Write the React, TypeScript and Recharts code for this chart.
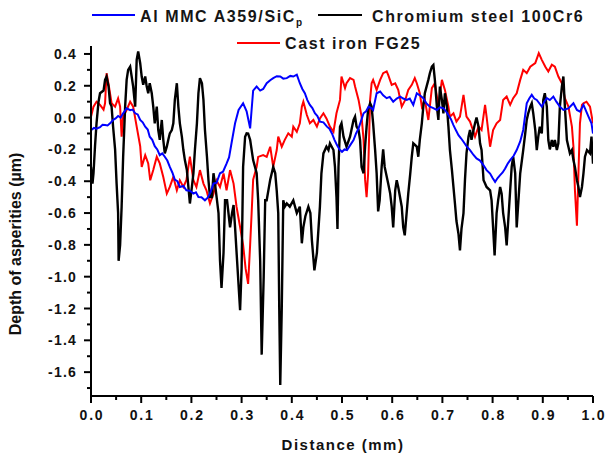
import React from 'react';
import { LineChart, Line, XAxis, YAxis } from 'recharts';

// [distance (mm), depth (µm)] pairs
const alMmc: [number, number][] = [
  [0.0, -0.08], [0.006, -0.065], [0.011, -0.07], [0.018, -0.06], [0.023, -0.045], [0.028, -0.047],
  [0.033, -0.05], [0.038, -0.036], [0.044, -0.015], [0.049, -0.005], [0.054, 0.01], [0.059, 0.0],
  [0.064, 0.027], [0.071, 0.058], [0.078, 0.047], [0.083, 0.05], [0.088, 0.027], [0.093, 0.02],
  [0.098, -0.015], [0.103, -0.03], [0.108, -0.057], [0.113, -0.075], [0.117, -0.12], [0.122, -0.14],
  [0.127, -0.18], [0.132, -0.2], [0.137, -0.236], [0.142, -0.225], [0.147, -0.246], [0.152, -0.27],
  [0.157, -0.31], [0.162, -0.345], [0.167, -0.39], [0.172, -0.4], [0.177, -0.436], [0.184, -0.43],
  [0.19, -0.457], [0.197, -0.46], [0.204, -0.478], [0.209, -0.47], [0.214, -0.499], [0.22, -0.5],
  [0.227, -0.52], [0.232, -0.505], [0.237, -0.478], [0.244, -0.415], [0.25, -0.41], [0.257, -0.35],
  [0.263, -0.34], [0.27, -0.29], [0.275, -0.25], [0.28, -0.16], [0.287, -0.036], [0.294, 0.048],
  [0.303, 0.09], [0.31, 0.04], [0.317, -0.068], [0.323, 0.17], [0.33, 0.195], [0.337, 0.17],
  [0.343, 0.18], [0.35, 0.216], [0.357, 0.235], [0.363, 0.248], [0.37, 0.26], [0.377, 0.258],
  [0.383, 0.245], [0.39, 0.248], [0.397, 0.262], [0.403, 0.258], [0.41, 0.27], [0.416, 0.216],
  [0.421, 0.18], [0.426, 0.153], [0.431, 0.11], [0.436, 0.08], [0.441, 0.06], [0.446, 0.027],
  [0.451, 0.01], [0.456, -0.026], [0.463, -0.03], [0.47, -0.057], [0.475, -0.07], [0.48, -0.1],
  [0.485, -0.14], [0.49, -0.173], [0.495, -0.2], [0.5, -0.215], [0.505, -0.2], [0.51, -0.204],
  [0.517, -0.17], [0.523, -0.141], [0.528, -0.1], [0.533, -0.068], [0.538, -0.02], [0.543, 0.027],
  [0.548, 0.04], [0.553, 0.069], [0.558, 0.06], [0.562, 0.048], [0.569, 0.153], [0.576, 0.164],
  [0.582, 0.14], [0.589, 0.122], [0.595, 0.13], [0.602, 0.1], [0.609, 0.12], [0.616, 0.132],
  [0.622, 0.12], [0.629, 0.111], [0.635, 0.12], [0.642, 0.08], [0.649, 0.153], [0.655, 0.14],
  [0.662, 0.122], [0.668, 0.09], [0.675, 0.069], [0.682, 0.06], [0.689, 0.048], [0.695, 0.065],
  [0.702, 0.059], [0.707, 0.04], [0.712, 0.016], [0.717, -0.01], [0.722, -0.047], [0.727, -0.08],
  [0.732, -0.11], [0.737, -0.13], [0.742, -0.152], [0.748, -0.18], [0.755, -0.204], [0.762, -0.235],
  [0.768, -0.257], [0.775, -0.27], [0.782, -0.3], [0.788, -0.33], [0.795, -0.352], [0.8, -0.38],
  [0.805, -0.404], [0.81, -0.38], [0.815, -0.362], [0.82, -0.345], [0.825, -0.32], [0.83, -0.29],
  [0.835, -0.267], [0.842, -0.24], [0.848, -0.204], [0.855, -0.15], [0.861, -0.078], [0.868, 0.09],
  [0.873, 0.12], [0.878, 0.143], [0.883, 0.12], [0.888, 0.111], [0.893, 0.09], [0.898, 0.069],
  [0.903, 0.1], [0.908, 0.122], [0.914, 0.11], [0.921, 0.132], [0.927, 0.1], [0.934, 0.069],
  [0.941, 0.048], [0.951, 0.058], [0.961, 0.09], [0.968, 0.048], [0.974, 0.037], [0.981, 0.08],
  [0.991, 0.006], [0.997, -0.036], [1.0, -0.1],
];

const chromiumSteel: [number, number][] = [
  [0.0, -0.31], [0.003, -0.415], [0.005, -0.35], [0.008, -0.18], [0.011, -0.036], [0.015, 0.1],
  [0.018, 0.153], [0.025, 0.17], [0.028, 0.237], [0.031, 0.258], [0.035, 0.195], [0.038, 0.09],
  [0.041, 0.069], [0.044, -0.057], [0.048, -0.2], [0.051, -0.415], [0.054, -0.6], [0.055, -0.9],
  [0.058, -0.8], [0.061, -0.56], [0.064, -0.25], [0.068, 0.069], [0.071, 0.237], [0.074, 0.3],
  [0.078, 0.32], [0.081, 0.258], [0.084, 0.195], [0.088, 0.069], [0.091, 0.363], [0.094, 0.416],
  [0.098, 0.342], [0.101, 0.258], [0.104, 0.206], [0.108, 0.258], [0.111, 0.195], [0.114, 0.153],
  [0.117, 0.216], [0.121, 0.153], [0.124, 0.069], [0.127, -0.036], [0.131, 0.069], [0.134, -0.078],
  [0.137, -0.14], [0.141, -0.015], [0.144, -0.14], [0.147, -0.225], [0.151, -0.183], [0.154, -0.14],
  [0.157, -0.099], [0.161, -0.078], [0.164, -0.036], [0.167, 0.111], [0.171, 0.216], [0.174, 0.069],
  [0.177, -0.036], [0.181, -0.12], [0.184, -0.204], [0.187, -0.267], [0.191, -0.33], [0.194, -0.436],
  [0.197, -0.54], [0.201, -0.436], [0.204, -0.35], [0.207, -0.204], [0.211, -0.036], [0.214, 0.153],
  [0.217, 0.248], [0.221, 0.216], [0.224, 0.111], [0.227, -0.078], [0.231, -0.246], [0.234, -0.394],
  [0.237, -0.5], [0.241, -0.5], [0.244, -0.35], [0.247, -0.415], [0.251, -0.52], [0.254, -0.6],
  [0.257, -0.9], [0.26, -1.07], [0.264, -0.85], [0.267, -0.52], [0.271, -0.52], [0.277, -0.69],
  [0.281, -0.6], [0.284, -0.55], [0.287, -0.69], [0.291, -0.9], [0.297, -1.21], [0.3, -0.95],
  [0.303, -0.31], [0.307, -0.12], [0.31, -0.099], [0.313, -0.1], [0.317, -0.14], [0.323, -0.267],
  [0.33, -0.35], [0.333, -0.52], [0.337, -0.9], [0.34, -1.49], [0.344, -1.0], [0.347, -0.52],
  [0.35, -0.52], [0.357, -0.39], [0.363, -0.31], [0.367, -0.35], [0.37, -0.46], [0.373, -0.6],
  [0.375, -1.2], [0.377, -1.68], [0.38, -1.2], [0.383, -0.52], [0.386, -0.56], [0.39, -0.54],
  [0.396, -0.56], [0.403, -0.52], [0.41, -0.6], [0.416, -0.56], [0.42, -0.79], [0.423, -0.69],
  [0.427, -0.62], [0.433, -0.56], [0.437, -0.6], [0.44, -0.77], [0.445, -0.96], [0.45, -0.85],
  [0.456, -0.56], [0.459, -0.35], [0.463, -0.225], [0.469, -0.183], [0.473, -0.204], [0.476, -0.162],
  [0.483, -0.204], [0.486, -0.31], [0.489, -0.5], [0.491, -0.7], [0.493, -0.31], [0.496, -0.057],
  [0.499, -0.036], [0.503, -0.12], [0.509, -0.183], [0.516, -0.12], [0.523, -0.015], [0.526, 0.006],
  [0.529, -0.057], [0.533, -0.078], [0.536, -0.14], [0.539, -0.31], [0.543, -0.35], [0.546, -0.183],
  [0.549, -0.057], [0.552, 0.048], [0.556, 0.09], [0.559, 0.069], [0.562, -0.036], [0.566, -0.204],
  [0.569, -0.35], [0.572, -0.59], [0.575, -0.52], [0.579, -0.31], [0.582, -0.2], [0.585, -0.31],
  [0.592, -0.415], [0.596, -0.478], [0.599, -0.56], [0.602, -0.69], [0.606, -0.457], [0.609, -0.394],
  [0.612, -0.436], [0.619, -0.56], [0.622, -0.69], [0.625, -0.74], [0.632, -0.478], [0.636, -0.35],
  [0.639, -0.246], [0.642, -0.162], [0.649, -0.183], [0.652, -0.246], [0.655, -0.14], [0.659, -0.036],
  [0.662, 0.069], [0.665, 0.153], [0.672, 0.237], [0.675, 0.279], [0.679, 0.32], [0.682, 0.33],
  [0.685, 0.237], [0.689, 0.069], [0.692, -0.015], [0.695, 0.195], [0.699, 0.111], [0.702, 0.027],
  [0.705, 0.153], [0.709, 0.069], [0.712, -0.057], [0.715, -0.204], [0.719, -0.33], [0.722, -0.436],
  [0.725, -0.54], [0.728, -0.65], [0.732, -0.73], [0.735, -0.835], [0.738, -0.7], [0.742, -0.6],
  [0.745, -0.39], [0.748, -0.225], [0.752, -0.12], [0.755, -0.078], [0.758, -0.14], [0.762, -0.078],
  [0.765, -0.036], [0.768, 0.0], [0.772, -0.057], [0.775, -0.162], [0.778, -0.204], [0.782, -0.394],
  [0.785, -0.415], [0.788, -0.436], [0.795, -0.457], [0.798, -0.52], [0.801, -0.69], [0.804, -0.867],
  [0.808, -0.6], [0.811, -0.52], [0.815, -0.436], [0.818, -0.478], [0.821, -0.6], [0.825, -0.69],
  [0.828, -0.804], [0.835, -0.457], [0.838, -0.31], [0.841, -0.246], [0.845, -0.35], [0.848, -0.69],
  [0.855, -0.35], [0.861, -0.204], [0.865, -0.099], [0.868, -0.015], [0.871, 0.027], [0.875, 0.069],
  [0.878, 0.09], [0.881, 0.027], [0.885, -0.078], [0.888, -0.204], [0.891, -0.12], [0.894, -0.057],
  [0.898, -0.099], [0.901, 0.111], [0.904, 0.153], [0.908, 0.069], [0.911, -0.141], [0.914, -0.2],
  [0.918, -0.141], [0.921, -0.183], [0.924, -0.141], [0.928, -0.204], [0.931, -0.162], [0.934, 0.069],
  [0.938, 0.195], [0.941, 0.258], [0.944, 0.069], [0.948, -0.141], [0.951, -0.183], [0.954, -0.225],
  [0.958, -0.204], [0.961, -0.267], [0.964, -0.31], [0.968, -0.394], [0.971, -0.436], [0.974, -0.5],
  [0.978, -0.436], [0.981, -0.35], [0.984, -0.246], [0.988, -0.204], [0.994, -0.225], [0.997, -0.12],
  [1.0, -0.29],
];

const castIron: [number, number][] = [
  [0.0, 0.006], [0.005, 0.069], [0.011, 0.1], [0.018, 0.08], [0.025, 0.05], [0.028, 0.09],
  [0.031, 0.279], [0.035, 0.21], [0.041, 0.09], [0.048, 0.069], [0.054, 0.12], [0.058, 0.069],
  [0.061, -0.12], [0.064, 0.006], [0.071, 0.048], [0.078, 0.1], [0.084, 0.069], [0.091, -0.057],
  [0.098, -0.18], [0.101, -0.31], [0.108, -0.236], [0.114, -0.288], [0.118, -0.394], [0.124, -0.33],
  [0.131, -0.246], [0.137, -0.288], [0.144, -0.373], [0.151, -0.478], [0.157, -0.436], [0.164, -0.373],
  [0.171, -0.457], [0.177, -0.394], [0.184, -0.436], [0.19, -0.394], [0.197, -0.246], [0.204, -0.394],
  [0.21, -0.436], [0.217, -0.33], [0.224, -0.415], [0.23, -0.457], [0.237, -0.54], [0.244, -0.478],
  [0.25, -0.394], [0.257, -0.436], [0.264, -0.351], [0.27, -0.457], [0.277, -0.33], [0.284, -0.415],
  [0.29, -0.562], [0.297, -0.688], [0.303, -0.8], [0.308, -0.95], [0.313, -1.045], [0.317, -0.8],
  [0.32, -0.6], [0.323, -0.39], [0.33, -0.31], [0.333, -0.247], [0.343, -0.236], [0.35, -0.247],
  [0.357, -0.183], [0.363, -0.31], [0.37, -0.204], [0.373, -0.12], [0.38, -0.183], [0.386, -0.14],
  [0.393, -0.099], [0.4, -0.12], [0.403, -0.057], [0.41, -0.089], [0.416, -0.036], [0.42, 0.069],
  [0.423, 0.1], [0.43, 0.016], [0.436, -0.036], [0.443, -0.015], [0.45, -0.057], [0.456, -0.005],
  [0.463, 0.027], [0.469, -0.005], [0.476, -0.057], [0.483, -0.09], [0.489, 0.027], [0.496, 0.111],
  [0.499, 0.258], [0.506, 0.185], [0.509, 0.216], [0.516, 0.248], [0.523, 0.237], [0.526, 0.195],
  [0.533, 0.111], [0.539, 0.006], [0.543, -0.14], [0.546, -0.39], [0.549, -0.5], [0.552, -0.352],
  [0.556, 0.111], [0.559, 0.216], [0.562, 0.237], [0.569, 0.174], [0.576, 0.237], [0.582, 0.279],
  [0.589, 0.29], [0.592, 0.269], [0.599, 0.206], [0.606, 0.216], [0.612, 0.174], [0.619, 0.069],
  [0.626, 0.111], [0.632, 0.174], [0.639, 0.206], [0.645, 0.248], [0.649, 0.216], [0.655, 0.153],
  [0.659, 0.069], [0.665, 0.111], [0.672, -0.015], [0.679, 0.185], [0.685, 0.216], [0.692, 0.069],
  [0.699, 0.237], [0.705, 0.174], [0.712, 0.069], [0.715, 0.006], [0.722, 0.027], [0.728, -0.025],
  [0.735, 0.006], [0.742, 0.143], [0.748, 0.006], [0.755, -0.025], [0.762, -0.089], [0.765, -0.12],
  [0.772, -0.057], [0.778, -0.078], [0.785, 0.08], [0.788, 0.006], [0.795, -0.183], [0.801, -0.078],
  [0.808, -0.036], [0.815, -0.015], [0.821, 0.111], [0.828, 0.132], [0.835, 0.08], [0.841, 0.122],
  [0.848, 0.153], [0.855, 0.237], [0.861, 0.3], [0.868, 0.279], [0.875, 0.32], [0.885, 0.342],
  [0.892, 0.405], [0.898, 0.363], [0.905, 0.32], [0.911, 0.29], [0.918, 0.332], [0.924, 0.32],
  [0.931, 0.258], [0.938, 0.216], [0.944, 0.122], [0.951, 0.069], [0.958, -0.057], [0.961, -0.18],
  [0.964, -0.457], [0.968, -0.68], [0.971, -0.35], [0.974, -0.036], [0.978, 0.08], [0.981, 0.09],
  [0.987, 0.1], [0.994, 0.069], [1.0, -0.036],
];

const xTicks = [0, 0.05, 0.1, 0.15, 0.2, 0.25, 0.3, 0.35, 0.4, 0.45, 0.5, 0.55, 0.6, 0.65, 0.7, 0.75, 0.8, 0.85, 0.9, 0.95, 1];
const yTicks = [-1.7, -1.6, -1.5, -1.4, -1.3, -1.2, -1.1, -1.0, -0.9, -0.8, -0.7, -0.6, -0.5, -0.4, -0.3, -0.2, -0.1, 0, 0.1, 0.2, 0.3, 0.4];

const FONT = '"Liberation Sans", Arial, sans-serif';
const toRows = (pts: [number, number][]) => pts.map(([d, v]) => ({ d, v }));

const XTick = (props: any) => {
  const { x, y, payload } = props;
  const major = Math.round(payload.value * 100) % 10 === 0;
  return (
    <g>
      <line x1={x} x2={x} y1={y} y2={y + (major ? 7 : 4)} stroke="#000" strokeWidth={2} />
      {major && (
        <text x={x + 1} y={y + 24} textAnchor="middle" fontFamily={FONT} fontWeight="bold" fontSize={14} letterSpacing={1.8} fill="#111">
          {payload.value.toFixed(1)}
        </text>
      )}
    </g>
  );
};

const YTick = (props: any) => {
  const { x, y, payload } = props;
  const major = Math.round(payload.value * 10) % 2 === 0;
  return (
    <g>
      <line x1={x} x2={x - (major ? 7 : 4)} y1={y} y2={y} stroke="#000" strokeWidth={2} />
      {major && (
        <text x={x - 14} y={y + 5} textAnchor="end" fontFamily={FONT} fontWeight="bold" fontSize={14} letterSpacing={1.2} fill="#111">
          {payload.value.toFixed(1)}
        </text>
      )}
    </g>
  );
};

const Legendish = () => (
  <svg width={607} height={60} style={{ position: 'absolute', left: 0, top: 0 }}>
    <g fontFamily={FONT} fontWeight="bold" fontSize={16} letterSpacing={1.6} fill="#151515">
      <line x1={92} x2={135} y1={15} y2={15} stroke="#0000ff" strokeWidth={2} />
      <text x={140} y={21.5}>
        Al MMC A359/SiC<tspan fontSize={10} dy={4} letterSpacing={0}>p</tspan>
      </text>
      <line x1={318} x2={362} y1={15} y2={15} stroke="#000" strokeWidth={2} />
      <text x={372} y={21.5}>Chromium steel 100Cr6</text>
      <line x1={237} x2={280} y1={43} y2={43} stroke="#ff0000" strokeWidth={2} />
      <text x={285} y={48.5}>Cast iron FG25</text>
    </g>
  </svg>
);

export default function App() {
  return (
    <div style={{ position: 'absolute', left: 0, top: 0, width: 607, height: 460, background: '#fff' }}>
      <LineChart width={607} height={460} margin={{ top: 46, right: 14, bottom: 0, left: 0 }}>
        <XAxis
          type="number"
          dataKey="d"
          domain={[0, 1]}
          ticks={xTicks}
          interval={0}
          height={64}
          tickSize={0}
          tickMargin={0}
          tickLine={false}
          tick={<XTick />}
          axisLine={{ stroke: '#000', strokeWidth: 2 }}
          allowDataOverflow
          label={() => (
            <text x={343} y={450} textAnchor="middle" fontFamily={FONT} fontWeight="bold" fontSize={15} letterSpacing={1.5} fill="#111">
              Distance (mm)
            </text>
          )}
        />
        <YAxis
          type="number"
          domain={[-1.75, 0.45]}
          ticks={yTicks}
          interval={0}
          width={91}
          tickSize={0}
          tickMargin={0}
          tickLine={false}
          tick={<YTick />}
          axisLine={{ stroke: '#000', strokeWidth: 2 }}
          allowDataOverflow
          label={() => (
            <text transform="translate(21,244) rotate(-90)" textAnchor="middle" fontFamily={FONT} fontWeight="bold" fontSize={16} fill="#111">
              Depth of asperities (µm)
            </text>
          )}
        />
        <Line data={toRows(castIron)} dataKey="v" type="linear" stroke="#ff0000" strokeWidth={2} dot={false} isAnimationActive={false} />
        <Line data={toRows(chromiumSteel)} dataKey="v" type="linear" stroke="#000000" strokeWidth={2.4} dot={false} isAnimationActive={false} />
        <Line data={toRows(alMmc)} dataKey="v" type="linear" stroke="#0000ff" strokeWidth={2} dot={false} isAnimationActive={false} />
      </LineChart>
      <Legendish />
    </div>
  );
}
